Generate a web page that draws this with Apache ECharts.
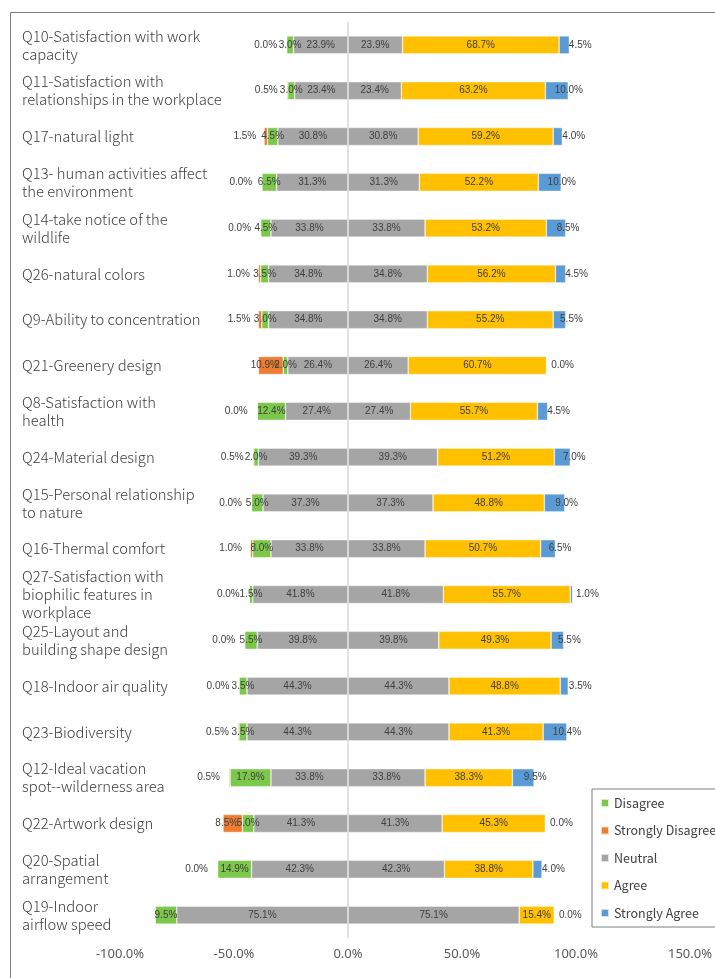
<!DOCTYPE html>
<html>
<head>
<meta charset="utf-8">
<script src="https://cdn.jsdelivr.net/npm/echarts@6/dist/echarts.min.js"></script>
<style>
    html, body { margin: 0; padding: 0; background: #fff; }
    #chart { width: 715px; height: 978px; }
</style>
</head>
<body>
<div id="chart"></div>
<script>
var categories = [
    'Q10-Satisfaction with work\ncapacity',
    'Q11-Satisfaction with\nrelationships in the workplace',
    'Q17-natural light',
    'Q13- human activities affect\nthe environment',
    'Q14-take notice of the\nwildlife',
    'Q26-natural colors',
    'Q9-Ability to concentration',
    'Q21-Greenery design',
    'Q8-Satisfaction with\nhealth',
    'Q24-Material design',
    'Q15-Personal relationship\nto nature',
    'Q16-Thermal comfort',
    'Q27-Satisfaction with\nbiophilic features in\nworkplace',
    'Q25-Layout and\nbuilding shape design',
    'Q18-Indoor air quality',
    'Q23-Biodiversity',
    'Q12-Ideal vacation\nspot--wilderness area',
    'Q22-Artwork design',
    'Q20-Spatial\narrangement',
    'Q19-Indoor\nairflow speed'
];
var stronglyDisagree = [0.0, 0.5, 1.5, 0.0, 0.0, 1.0, 1.5, 10.9, 0.0, 0.5, 0.0, 1.0, 0.0, 0.0, 0.0, 0.5, 0.5, 8.5, 0.0, 0.0];
var disagree = [3.0, 3.0, 4.5, 6.5, 4.5, 3.5, 3.0, 2.0, 12.4, 2.0, 5.0, 8.0, 1.5, 5.5, 3.5, 3.5, 17.9, 5.0, 14.9, 9.5];
var neutral = [23.9, 23.4, 30.8, 31.3, 33.8, 34.8, 34.8, 26.4, 27.4, 39.3, 37.3, 33.8, 41.8, 39.8, 44.3, 44.3, 33.8, 41.3, 42.3, 75.1];
var agree = [68.7, 63.2, 59.2, 52.2, 53.2, 56.2, 55.2, 60.7, 55.7, 51.2, 48.8, 50.7, 55.7, 49.3, 48.8, 41.3, 38.3, 45.3, 38.8, 15.4];
var stronglyAgree = [4.5, 10.0, 4.0, 10.0, 8.5, 4.5, 5.5, 0.0, 4.5, 7.0, 9.0, 6.5, 1.0, 5.5, 3.5, 10.4, 9.5, 0.0, 4.0, 0.0];
var xTicks = [-100, -50, 0, 50, 100, 150];

var colors = {
    disagree: '#7cc84a',
    sd: '#ed7d31',
    neutral: '#a5a5a5',
    agree: '#ffc000',
    sa: '#5b9bd5'
};

var chart = echarts.init(document.getElementById('chart'), null, { renderer: 'canvas' });

var pct = function(p) {
    return Math.abs(p.value).toFixed(1) + '%';
};
var labelBase = {
    show: true,
    position: 'inside',
    color: '#404040',
    fontSize: 10,
    fontFamily: 'Liberation Sans',
    formatter: pct
};
var barBase = {
    type: 'bar',
    stack: 'total',
    barWidth: 18,
    itemStyle: { borderColor: 'rgba(255,255,255,0.7)', borderWidth: 0.6 }
};
var makeSeries = function(name, color, data, extra) {
    var s = Object.assign({}, barBase, {
        name: name,
        data: data,
        label: Object.assign({}, labelBase),
        itemStyle: Object.assign({}, barBase.itemStyle, { color: color })
    });
    return Object.assign(s, extra || {});
};

// outer label of the left side sits a bit left of its segment
var sdData = stronglyDisagree.map(function(v, i) {
    var item = { value: -v, label: { offset: [v >= 5 ? -6 : -21, 0] } };
    if (i === categories.length - 1) {
        item.label.show = false;
    }
    return item;
});
var saData = stronglyAgree.map(function(v) {
    return { value: v, label: { offset: [v >= 5 ? 12 : 16, 0] } };
});

var option = {
    animation: false,
    backgroundColor: '#fff',
    grid: { left: 120, right: 24, top: 22, bottom: 40, containLabel: false },
    legend: {
        orient: 'vertical',
        left: 592,
        top: 789,
        padding: [7, 40, 7, 8],
        itemGap: 13.5,
        itemWidth: 8,
        itemHeight: 8,
        icon: 'rect',
        borderColor: '#7f7f7f',
        borderWidth: 1,
        textStyle: { color: '#404040', fontSize: 12.5, lineHeight: 14, fontFamily: 'Noto Sans CJK SC' },
        data: ['Disagree', 'Strongly Disagree', 'Neutral', 'Agree', 'Strongly Agree']
    },
    xAxis: {
        type: 'value',
        min: -100,
        max: 150,
        interval: 50,
        axisLine: { show: false },
        axisTick: { show: false },
        splitLine: { show: false },
        axisLabel: {
            margin: 10,
            color: '#595959',
            fontSize: 13,
            fontFamily: 'Noto Sans',
            formatter: function(v) {
                return xTicks.indexOf(v) >= 0 ? v.toFixed(1) + '%' : '';
            }
        }
    },
    yAxis: {
        type: 'category',
        inverse: true,
        data: categories,
        axisLine: { show: false },
        axisTick: { show: false },
        axisLabel: {
            align: 'left',
            margin: 98,
            color: '#404040',
            fontSize: 14.8,
            fontWeight: 300,
            lineHeight: 18,
            fontFamily: 'Noto Sans CJK SC'
        }
    },
    graphic: [{
        type: 'rect',
        shape: { x: 10.5, y: 12.5, width: 800, height: 1000 },
        style: { fill: 'none', stroke: '#7f7f7f', lineWidth: 1 },
        silent: true
    }],
    series: [
        makeSeries('Neutral', colors.neutral, neutral.map(function(v) { return -v; })),
        makeSeries('Disagree', colors.disagree, disagree.map(function(v) { return -v; })),
        makeSeries('Strongly Disagree', colors.sd, sdData),
        makeSeries('Neutral', colors.neutral, neutral, {
            markLine: {
                silent: true,
                symbol: 'none',
                label: { show: false },
                lineStyle: { color: '#d9d9d9', width: 1.5, type: 'solid' },
                data: [{ xAxis: 0 }]
            }
        }),
        makeSeries('Agree', colors.agree, agree),
        makeSeries('Strongly Agree', colors.sa, saData)
    ]
};

chart.setOption(option);
</script>
</body>
</html>
